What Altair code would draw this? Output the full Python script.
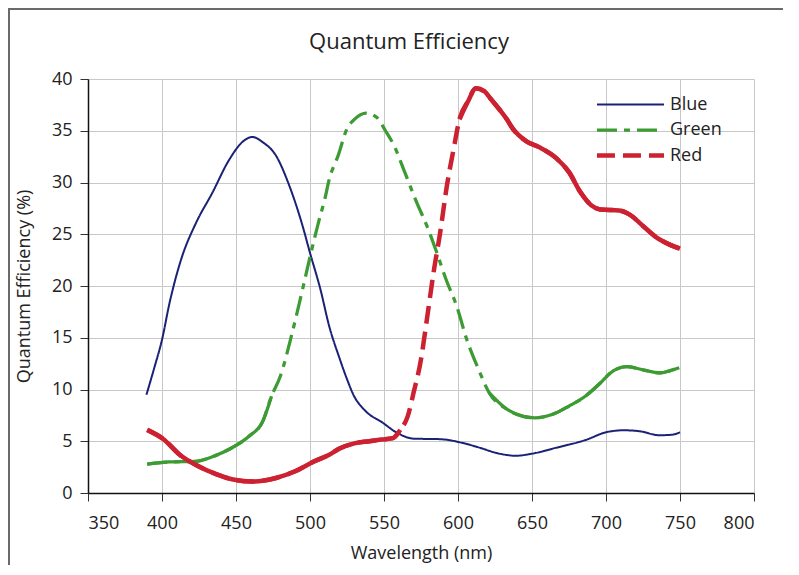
import altair as alt
import pandas as pd

# ---- data ----
blue_wl = [389.5, 395, 400, 405, 413, 423, 434, 445, 455, 461, 468, 477, 486, 495, 500,
           507, 513, 520, 525, 530, 535, 540, 548, 559, 570, 588, 603, 615, 626, 639,
           650, 666, 687, 700, 712, 723, 736, 745, 750]
blue_qe = [9.5, 12.2, 14.8, 18.3, 22.6, 26.1, 29.0, 32.1, 34.0, 34.4, 33.9, 32.6, 29.7, 25.8, 23.2,
           19.7, 16.1, 13.0, 11.0, 9.3, 8.3, 7.6, 6.9, 5.8, 5.25, 5.2, 4.84, 4.36, 3.87, 3.6,
           3.8, 4.36, 5.16, 5.87, 6.06, 5.96, 5.58, 5.64, 5.87]

green_wl = [390, 405, 423, 434, 447, 459, 468, 474, 480, 488, 495, 501, 506, 510, 513, 519,
            525, 530, 538, 545, 551, 557, 564, 572, 579, 585, 592, 599, 606, 614, 621, 633,
            644, 652, 664, 675, 686, 696, 703, 714, 725, 737, 743, 749.5]
green_qe = [2.8, 3.0, 3.06, 3.5, 4.35, 5.5, 6.9, 9.35, 11.3, 15.5, 19.7, 23.4, 26.3, 28.4, 30.3, 32.6,
            35.2, 36.1, 36.7, 36.3, 35.0, 33.5, 31.0, 28.1, 25.8, 23.5, 20.6, 18.1, 14.8, 11.9, 9.7, 8.1,
            7.4, 7.26, 7.6, 8.4, 9.35, 10.6, 11.6, 12.2, 11.9, 11.6, 11.8, 12.1]

red_wl = [390, 401, 412, 423, 437, 448, 461, 477, 490, 503, 513, 520, 530, 540, 548, 556,
          561, 566, 570, 575, 579, 583.5, 588, 592.5, 597, 601, 607, 612, 618, 622, 633, 637,
          646, 655, 666, 675, 683, 690, 696, 709, 716, 725, 734, 743, 750]
red_qe = [6.1, 5.2, 3.7, 2.7, 1.8, 1.3, 1.1, 1.45, 2.1, 3.06, 3.7, 4.3, 4.8, 5.0, 5.16, 5.3,
          6.1, 7.4, 9.7, 12.9, 16.8, 21.3, 25.2, 29.7, 33.2, 36.1, 37.9, 39.1, 38.8, 38.1, 36.1, 35.2,
          34.0, 33.4, 32.4, 31.0, 29.0, 27.8, 27.4, 27.3, 26.9, 25.8, 24.7, 24.0, 23.6]

series_names = ["Blue", "Green", "Red"]
series_colors = ["#1b2176", "#3d9b33", "#cc2131"]
series_dash = [[1, 0], [20, 7, 6, 7], [18, 8]]
series_width = [2, 4.5, 4.5]
# portions of the dashed curves that the original draws as solid
solid_ranges = {"Green": [(390, 474), (621, 750)], "Red": [(390, 561), (601, 750)]}

x_ticks = [350, 400, 450, 500, 550, 600, 650, 700, 750, 800]
y_ticks = [0, 5, 10, 15, 20, 25, 30, 35, 40]

FONT = "Open Sans"
W, H = 666, 414
PAD = {"left": 80, "top": 71, "right": 29, "bottom": 72}

rows = []
for name, wls, qes in [("Blue", blue_wl, blue_qe), ("Green", green_wl, green_qe), ("Red", red_wl, red_qe)]:
    for w, q in zip(wls, qes):
        rows.append({"wl": w, "qe": q, "series": name})
df = pd.DataFrame(rows)

seg_rows = []
for name, ranges in solid_ranges.items():
    for i, (a, b) in enumerate(ranges):
        sub = df[(df.series == name) & (df.wl >= a) & (df.wl <= b)]
        for _, r in sub.iterrows():
            seg_rows.append({"wl": r.wl, "qe": r.qe, "series": name, "seg": f"{name}{i}"})
df_solid = pd.DataFrame(seg_rows)

x_enc = alt.X("wl:Q", scale=alt.Scale(domain=[350, 800], nice=False, zero=False),
              axis=alt.Axis(values=x_ticks, title="Wavelength (nm)", format="d"))
y_enc = alt.Y("qe:Q", scale=alt.Scale(domain=[0, 40], nice=False),
              axis=alt.Axis(values=y_ticks, title="Quantum Efficiency (%)", format="d"))


def legend():
    return alt.Legend(title=None, orient="none", legendX=529, legendY=13,
                      symbolType="M-3,0H3", symbolSize=500, labelFontSize=18,
                      labelFont=FONT, labelColor="#222", rowPadding=3, labelOffset=26)


color_enc = alt.Color("series:N", scale=alt.Scale(domain=series_names, range=series_colors),
                      legend=legend())
dash_enc = alt.StrokeDash("series:N", scale=alt.Scale(domain=series_names, range=series_dash),
                          legend=legend())
width_enc = alt.StrokeWidth("series:N", scale=alt.Scale(domain=series_names, range=series_width),
                            legend=legend())

lines = alt.Chart(df).mark_line(interpolate="monotone").encode(
    x=x_enc, y=y_enc, color=color_enc, strokeDash=dash_enc, strokeWidth=width_enc
)
solid = alt.Chart(df_solid).mark_line(interpolate="monotone").encode(
    x="wl:Q", y="qe:Q", color=alt.Color("series:N"), strokeWidth=alt.StrokeWidth("series:N"),
    detail="seg:N"
)

one = pd.DataFrame({"k": [0]})
frame_top = alt.Chart(one).mark_rule(color="#6a6a6a", strokeWidth=2).encode(
    x=alt.value(-PAD["left"]), x2=alt.value(W + PAD["right"]), y=alt.value(-PAD["top"] + 1)
)
frame_left = alt.Chart(one).mark_rule(color="#6a6a6a", strokeWidth=2).encode(
    x=alt.value(-PAD["left"] + 1), y=alt.value(-PAD["top"]), y2=alt.value(H + PAD["bottom"])
)

chart = alt.layer(lines, solid, frame_top, frame_left).properties(
    width=W, height=H,
    title=alt.Title("Quantum Efficiency", fontSize=22, font=FONT, fontWeight="normal",
                    color="#222", anchor="middle", dx=-12, offset=-47),
    autosize=alt.AutoSizeParams(type="none"),
    padding=PAD,
    background="white",
).configure_view(
    stroke=None
).configure_axis(
    labelFont=FONT, titleFont=FONT, labelFontSize=18, titleFontSize=18,
    labelColor="#222", titleColor="#222", titleFontWeight="normal",
    gridColor="#c8c8c8", gridWidth=1, domainColor="#111", domainWidth=1.5,
    tickColor="#333", tickSize=8,
).configure_axisX(
    labelPadding=13, titlePadding=12
).configure_axisY(
    labelPadding=8, titlePadding=18
)

chart.save("out.html", embed_options={"renderer": "svg", "actions": False})
